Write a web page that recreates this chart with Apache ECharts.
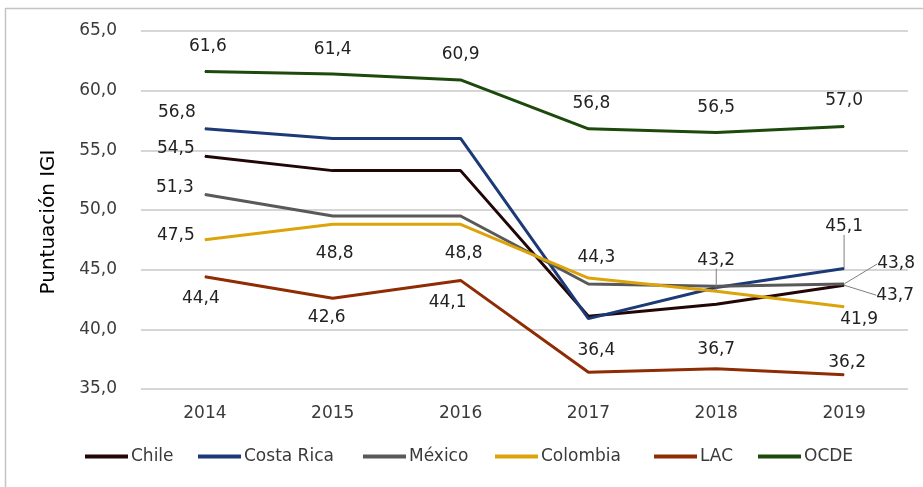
<!DOCTYPE html>
<html><head><meta charset="utf-8">
<script src="https://cdn.jsdelivr.net/npm/echarts@6/dist/echarts.min.js"></script>
<style>html,body{margin:0;padding:0;background:#fff}#c{width:923px;height:487px}</style>
</head><body><div id="c"></div>
<script>
const years = ['2014', '2015', '2016', '2017', '2018', '2019'];
const chile = [54.5, 53.3, 53.3, 41.1, 42.1, 43.7];
const costaRica = [56.8, 56.0, 56.0, 40.9, 43.5, 45.1];
const mexico = [51.3, 49.5, 49.5, 43.8, 43.6, 43.8];
const colombia = [47.5, 48.8, 48.8, 44.3, 43.2, 41.9];
const lac = [44.4, 42.6, 44.1, 36.4, 36.7, 36.2];
const ocde = [61.6, 61.4, 60.9, 56.8, 56.5, 57.0];
const yMin = 35, yMax = 65, yStep = 5;

const FONT = 'DejaVu Sans';
const fmt = v => v.toFixed(1).replace('.', ',');

// label centre offsets (px) from each point; null = no label
const seriesDefs = [
  { name: 'Chile', data: chile, color: '#220606',
    offsets: [[-29, -8], null, null, null, null, [51, 10]], leaders: [5] },
  { name: 'Costa Rica', data: costaRica, color: '#1d3a78',
    offsets: [[-28, -16], null, null, null, null, [0, -42]], leaders: [5] },
  { name: 'México', data: mexico, color: '#595959',
    offsets: [[-30, -7], null, null, null, null, [52, -20]], leaders: [5] },
  { name: 'Colombia', data: colombia, color: '#dca40a',
    offsets: [[-29, -4], [2, 29], [3, 29], [8, -20], [0, -31], [15, 13]], leaders: [4] },
  { name: 'LAC', data: lac, color: '#8f2c03',
    offsets: [[-4, 22], [-6, 19], [-13, 22], [8, -22], [0, -19], [3, -12]], leaders: [] },
  { name: 'OCDE', data: ocde, color: '#1d4a0c',
    offsets: [[3, -25], [0, -24], [0, -25], [3, -25], [0, -25], [0, -26]], leaders: [] }
];
const legendLefts = [85, 198, 363, 495, 654, 758];

const chart = echarts.init(document.getElementById('c'), null, { renderer: 'canvas' });
chart.setOption({
  animation: false,
  backgroundColor: '#fff',
  textStyle: { fontFamily: FONT },
  grid: { left: 141, right: 15, top: 31, bottom: 98 },
  xAxis: {
    type: 'category', data: years, boundaryGap: true,
    axisLine: { show: false }, axisTick: { show: false },
    axisLabel: { fontSize: 17, color: '#3a3a3a', margin: 16, fontFamily: FONT }
  },
  yAxis: {
    type: 'value', min: yMin, max: yMax, interval: yStep,
    axisLine: { show: false }, axisTick: { show: false },
    axisLabel: { fontSize: 17, color: '#3a3a3a', margin: 24, formatter: v => fmt(v), fontFamily: FONT },
    splitLine: { lineStyle: { color: '#d6d6d6', width: 2 } }
  },
  legend: seriesDefs.map((s, i) => ({
    data: [s.name], left: legendLefts[i], top: 448,
    icon: 'rect', itemWidth: 43, itemHeight: 4, itemGap: 0, padding: 0,
    textStyle: { fontSize: 17, color: '#3a3a3a', fontFamily: FONT, padding: [0, 0, 0, -2] }
  })),
  graphic: [
    { type: 'line', shape: { x1: 5, y1: 8.5, x2: 923, y2: 8.5 }, style: { stroke: '#c4c4c4', lineWidth: 1.5 }, silent: true },
    { type: 'line', shape: { x1: 5.5, y1: 8, x2: 5.5, y2: 487 }, style: { stroke: '#c4c4c4', lineWidth: 1.5 }, silent: true },
    { type: 'text', x: 49, y: 222, rotation: Math.PI / 2,
      style: { text: 'Puntuación IGI', font: '20px "' + FONT + '"', fill: '#000', textAlign: 'center', textVerticalAlign: 'middle' } }
  ],
  series: seriesDefs.map(s => ({
    name: s.name, type: 'line', color: s.color,
    symbol: 'circle', symbolSize: 1, showSymbol: true,
    lineStyle: { width: 3, color: s.color },
    itemStyle: { color: s.color },
    label: { show: false, position: 'inside', fontSize: 17, color: '#222', fontFamily: FONT,
      formatter: p => fmt(p.value) },
    labelLine: { show: false, lineStyle: { color: '#7f7f7f', width: 1 } },
    data: s.data.map((v, i) => ({
      value: v,
      label: { show: s.offsets[i] !== null },
      labelLine: { show: s.leaders.includes(i) }
    }))
  })),
  labelLayout: function (p) {
    const o = seriesDefs[p.seriesIndex].offsets[p.dataIndex];
    return o ? { dx: o[0], dy: o[1] } : {};
  }
});
</script>
</body></html>
